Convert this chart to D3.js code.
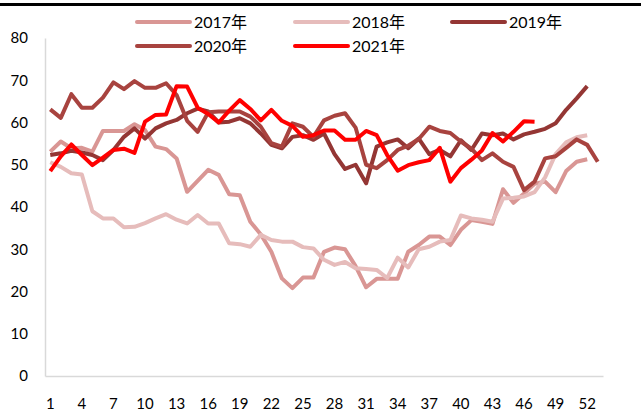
<!DOCTYPE html>
<html>
<head>
<meta charset="utf-8">
<script src="https://cdn.jsdelivr.net/npm/d3@7/dist/d3.min.js"></script>
<style>
  html, body { margin: 0; padding: 0; background: #fff; }
  svg { display: block; }
  text { font-family: Lato, "Liberation Sans", sans-serif; fill: #000; }
</style>
</head>
<body>
<svg id="chart" width="641" height="417"></svg>
<script>
// Weekly index by year, weeks 1..53 on the category axis
const weeks = d3.range(1, 54);
const tickWeeks = [1, 4, 7, 10, 13, 16, 19, 22, 25, 28, 31, 34, 37, 40, 43, 46, 49, 52];
const yTicks = [0, 10, 20, 30, 40, 50, 60, 70, 80];

const years = ["2017年", "2018年", "2019年", "2020年", "2021年"];
const colors = ["#d99694", "#e6bcbb", "#943634", "#a8433f", "#ff0000"];

const v2017 = [53.1, 55.5, 53.9, 54, 53.1, 58, 58, 58, 59.6, 58.2, 54.3, 53.7, 51.5, 43.6, 46.2, 48.8, 47.6, 43, 42.8, 36.5,
  33.5, 29.4, 23.1, 20.8, 23.3, 23.3, 29.4, 30.4, 30, 26, 21, 23, 23, 23, 29.4, 31, 33, 33, 31, 34.6,
  36.9, 36.5, 36, 44.2, 41, 43.2, 45.5, 46, 43.5, 48.5, 50.7, 51.3];
const v2018 = [50.6, 49.5, 48, 47.7, 39, 37.3, 37.3, 35.2, 35.3, 36.2, 37.3, 38.3, 37, 36.1, 38.1, 36.1, 36.1, 31.4, 31.2, 30.6,
  33.4, 32.2, 31.8, 31.8, 30.5, 30.2, 27.5, 26.3, 27, 25.5, 25.3, 25.1, 23.2, 28, 25.7, 30, 30.6, 31.8, 32.2, 38,
  37.3, 37, 36.5, 42, 42.2, 42.5, 43.5, 47, 52.5, 55.3, 56.5, 57];
const v2019 = [52.3, 52.7, 53.3, 52.9, 52.3, 51.1, 53.5, 56.6, 58.6, 56.2, 58.6, 59.8, 60.6, 62.2, 63.3, 62.6, 60, 60.2, 61, 59.8,
  57.4, 54.7, 53.9, 56.6, 57, 55.9, 57.4, 52.5, 49, 50, 45.6, 54.3, 55.3, 56, 53.9, 56.2, 52.5, 53.5, 52, 55.8,
  53.5, 57.4, 57, 57.4, 56, 57.2, 57.8, 58.5, 59.8, 63, 65.7, 68.6];
const v2020 = [63.1, 61.1, 66.7, 63.5, 63.5, 65.9, 69.5, 67.9, 69.8, 68.2, 68.2, 69.3, 66.5, 60.4, 57.8, 62.4, 62.6, 62.6, 62.6, 61.4,
  59, 55.1, 54.3, 59.8, 59, 56.6, 60.5, 61.6, 62.2, 58.8, 50, 49.2, 51.1, 53.5, 54.5, 56.1, 59, 58, 57.5, 55.5,
  53.8, 51.1, 52.7, 50.7, 49.5, 44, 46, 51.5, 52, 54, 56, 54.7, 50.7];
const v2021 = [48.5, 52, 54.8, 52.3, 49.9, 51.7, 53.5, 53.8, 52.8, 60.2, 61.8, 61.9, 68.6, 68.5, 63.5, 62, 60, 62.8, 65.3, 63.2,
  60.5, 63, 60.4, 59.2, 56.6, 57, 58.1, 58.1, 55.9, 55.9, 58, 57, 52.3, 48.6, 49.9, 50.6, 51.1, 54, 46, 49.2,
  51.2, 53.4, 57.5, 55.5, 57.8, 60.3, 60.2];

const seriesValues = [v2017, v2018, v2019, v2020, v2021];
const series = years.map((name, i) => ({
  name,
  color: colors[i],
  points: seriesValues[i].map((v, j) => ({ week: weeks[j], value: v }))
}));

const svg = d3.select("#chart");
const margin = { left: 45, right: 38, top: 38, bottom: 41 };
const W = 641, H = 417;

// Heavy rule across the top edge
svg.append("line")
  .attr("x1", 0).attr("x2", W)
  .attr("y1", 4.5).attr("y2", 4.5)
  .attr("stroke", "#000").attr("stroke-width", 3);

const x = d3.scaleBand()
  .domain(weeks)
  .range([margin.left, W - margin.right])
  .padding(0);
const xc = w => x(w) + x.bandwidth() / 2;

const y = d3.scaleLinear()
  .domain([0, 80])
  .range([H - margin.bottom, margin.top]);

// Axes
const yAxis = svg.append("g")
  .attr("transform", `translate(${margin.left},0)`)
  .call(d3.axisLeft(y).tickValues(yTicks).tickSize(0).tickPadding(17));
const xAxis = svg.append("g")
  .attr("transform", `translate(0,${H - margin.bottom})`)
  .call(d3.axisBottom(x).tickValues(tickWeeks).tickSize(0).tickPadding(22));

[yAxis, xAxis].forEach(g => {
  g.select(".domain").attr("stroke", "#d9d9d9").attr("stroke-width", 1.5);
  g.selectAll("text").style("font-size", "15px").style("font-family", "Lato, 'Liberation Sans', sans-serif").attr("fill", "#000");
});

// Lines
const line = d3.line()
  .x(d => xc(d.week))
  .y(d => y(d.value));

svg.append("g")
  .selectAll("path")
  .data(series)
  .join("path")
  .attr("d", d => line(d.points))
  .attr("fill", "none")
  .attr("stroke", d => d.color)
  .attr("stroke-width", 4)
  .attr("stroke-linejoin", "round");

// Legend, two rows
const legendCols = [137, 295, 452];
const legendRows = [22, 46];
const legend = svg.append("g")
  .selectAll("g")
  .data(series)
  .join("g")
  .attr("transform", (d, i) => `translate(${legendCols[i % 3]},${legendRows[Math.floor(i / 3)]})`);
legend.append("line")
  .attr("x1", 0).attr("x2", 53)
  .attr("stroke", d => d.color)
  .attr("stroke-width", 4)
  .attr("stroke-linecap", "round");
legend.append("text")
  .attr("x", 57)
  .attr("dy", "0.35em")
  .style("font-size", "16px")
  .style("font-family", "Lato, 'Noto Sans CJK SC', sans-serif")
  .text(d => d.name);
</script>
</body>
</html>
